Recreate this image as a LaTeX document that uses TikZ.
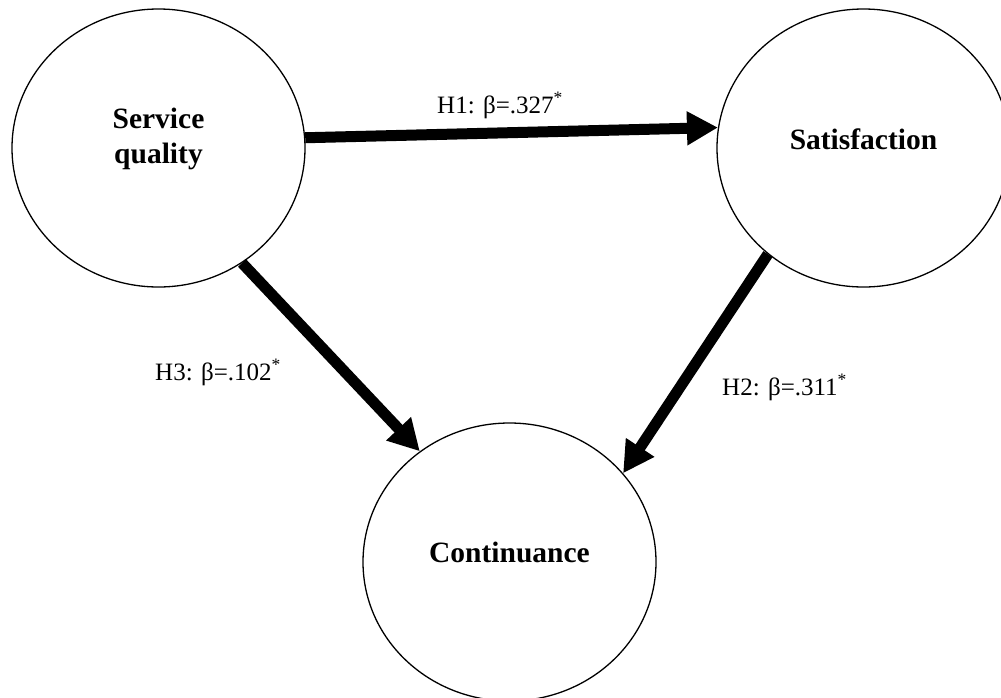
\documentclass[tikz,border=0pt]{standalone}
\usepackage{fontspec}
\setmainfont{Liberation Serif}
\usetikzlibrary{shapes.geometric,arrows.meta}
\begin{document}
\begin{tikzpicture}[x=1pt,y=-1pt,
  construct/.style={draw=black,line width=1.3pt,ellipse,minimum width=293pt,minimum height=278pt,inner sep=0pt},
  title/.style={font=\fontsize{29.5}{35}\selectfont\bfseries,align=center,inner sep=0pt},
  pathlbl/.style={font=\fontsize{25}{30}\selectfont,inner sep=0pt,anchor=base west},
  path/.style={line width=11pt,-{Triangle[length=31pt,width=32pt]}}]
\useasboundingbox (0,0) rectangle (1001,697);
\node[construct] (sq) at (158.5,148) {};
\node[construct] (sat) at (863.5,148) {};
\node[construct] (con) at (509.5,562) {};
\node[title] (sqt) at ([yshift=9.3pt]sq.center) {Service\\quality};
\node[title,anchor=base] (satt) at ([yshift=-1pt]sat.center) {Satisfaction};
\node[title,anchor=base] (cont) at (con.center) {Continuance};
\draw[path] (sq.4.7) -- (sat.172.6);
\draw[path] (sq.-54) -- (con.129.1);
\draw[path] (sat.228.8) -- (con.38.7);
\node[pathlbl] (h1) at (437,113) {H1: β=.327\textsuperscript{*}};
\node[pathlbl] (h3) at (155,380) {H3: β=.102\textsuperscript{*}};
\node[pathlbl] (h2) at (722,395) {H2: β=.311\textsuperscript{*}};
\end{tikzpicture}
\end{document}
